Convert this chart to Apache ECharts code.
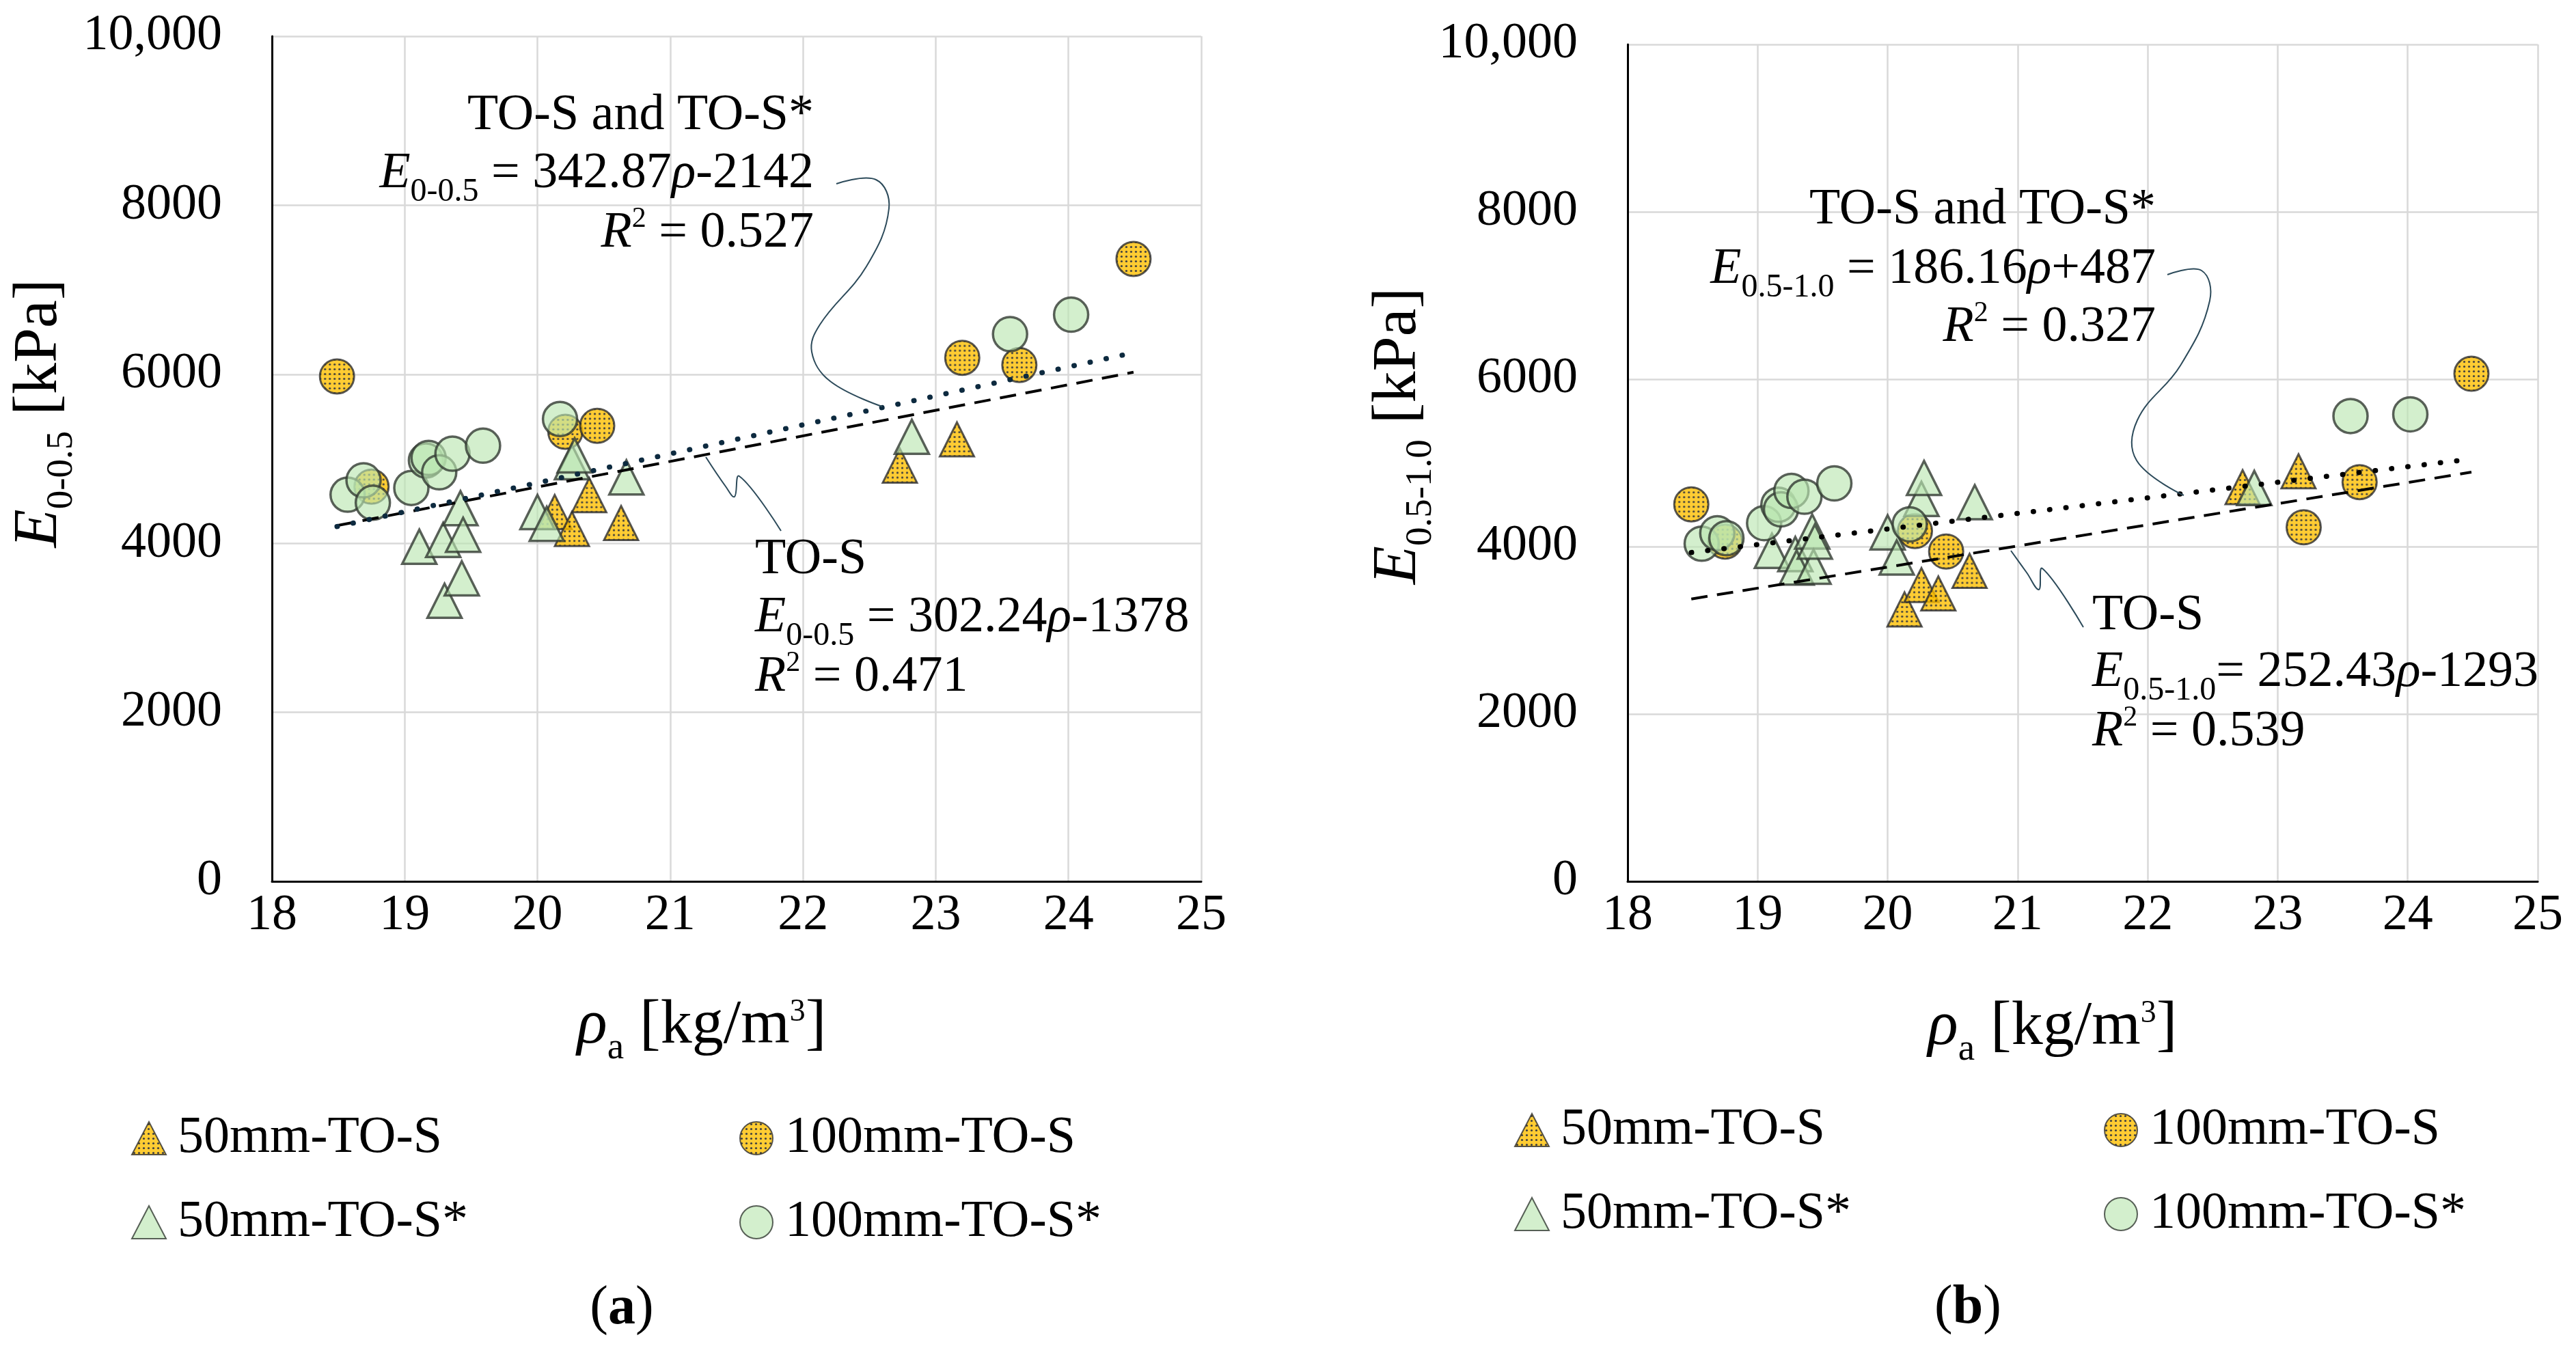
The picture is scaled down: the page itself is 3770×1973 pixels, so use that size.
<!DOCTYPE html>
<html>
<head>
<meta charset="utf-8">
<script src="https://cdn.jsdelivr.net/npm/echarts@6/dist/echarts.min.js"></script>
<style>
  html, body { margin: 0; padding: 0; background: #fff; }
  #chart { width: 3770px; height: 1973px; }
</style>
</head>
<body>
<div id="chart"></div>
<script>
// apparent density rho_a [kg/m3] per sample group
const rho50 = [20.13, 20.26, 20.39, 20.63, 22.73, 23.16];
const rho100 = [18.49, 18.75, 20.21, 20.45, 23.20, 23.63, 24.49];
const rho50s = [19.11, 19.29, 19.30, 19.42, 19.43, 19.44, 20.00, 20.07, 20.26, 20.28, 20.67, 22.82];
const rho100s = [18.57, 18.69, 18.76, 19.05, 19.16, 19.18, 19.26, 19.36, 19.59, 20.17, 23.56, 24.02];

// (a) E 0-0.5 [kPa]
const e05_50 = [4370, 4170, 4570, 4240, 4920, 5230];
const e05_100 = [5975, 4670, 5320, 5390, 6195, 6110, 7365];
const e05_50s = [3960, 4040, 3320, 4415, 3585, 4100, 4370, 4230, 4960, 5040, 4780, 5260];
const e05_100s = [4575, 4745, 4480, 4655, 4980, 5010, 4840, 5060, 5155, 5470, 6475, 6705];

// (b) E 0.5-1.0 [kPa]
const e10_50 = [3250, 3540, 3440, 3710, 4710, 4900];
const e10_100 = [4505, 4060, 4185, 3940, 4230, 4770, 6065];
const e10_50s = [3950, 3910, 3750, 4180, 3760, 4060, 4170, 3870, 4570, 4820, 4530, 4700];
const e10_100s = [4035, 4160, 4100, 4280, 4500, 4445, 4665, 4595, 4755, 4265, 5560, 5580];

// trend line end points
const fitTOS_a = [[18.49, 4210], [24.49, 6024]];
const fitAll_a = [[18.49, 4198], [24.49, 6255]];
const fitTOS_b = [[18.49, 3374], [24.49, 4889]];
const fitAll_b = [[18.49, 3929], [24.49, 5046]];

const xTicks = [18, 19, 20, 21, 22, 23, 24, 25];
const yTicks = [0, 2000, 4000, 6000, 8000, 10000];

const F = "'Liberation Serif', 'Times New Roman', serif";
const MARK = 50;

function dotPattern() {
  const c = document.createElement('canvas');
  c.width = 7; c.height = 7;
  const g = c.getContext('2d');
  g.fillStyle = '#ffc000';
  g.fillRect(0, 0, 7, 7);
  g.fillStyle = '#111';
  g.beginPath();
  g.arc(3.5, 3.5, 1.6, 0, Math.PI * 2);
  g.fill();
  return c;
}
const dots = dotPattern();
// symbols are drawn in a 2x2 box scaled by size/2, so shrink the pattern back
const orangeFill = { image: dots, repeat: 'repeat', scaleX: 2 / MARK, scaleY: 2 / MARK };
const orangeLegend = { image: dots, repeat: 'repeat' };
const greenFill = 'rgba(186,230,176,0.8)';

function pts(xs, ys) {
  return xs.map((x, i) => [x, ys[i]]);
}

function panel(k, e50, e100, e50s, e100s, fitTOS, fitAll, dotColor) {
  const base = { type: 'scatter', xAxisIndex: k, yAxisIndex: k, symbolSize: MARK, silent: true };
  return [
    { ...base, name: '50mm-TO-S', symbol: 'triangle', data: pts(rho50, e50),
      itemStyle: { color: orangeFill, borderColor: '#2e2e2e', borderWidth: 3 } },
    { ...base, name: '100mm-TO-S', symbol: 'circle', data: pts(rho100, e100),
      itemStyle: { color: orangeFill, borderColor: '#2e2e2e', borderWidth: 3 } },
    { ...base, name: '50mm-TO-S*', symbol: 'triangle', data: pts(rho50s, e50s),
      itemStyle: { color: greenFill, borderColor: '#323a32', borderWidth: 3.5 } },
    { ...base, name: '100mm-TO-S*', symbol: 'circle', data: pts(rho100s, e100s),
      itemStyle: { color: greenFill, borderColor: '#323a32', borderWidth: 3.5 } },
    { type: 'line', xAxisIndex: k, yAxisIndex: k, data: fitTOS, symbol: 'none', silent: true, z: 5,
      lineStyle: { color: '#000', width: 4, type: [24, 14] } },
    { type: 'line', xAxisIndex: k, yAxisIndex: k, data: fitAll, symbol: 'none', silent: true, z: 5,
      lineStyle: { color: dotColor, width: 7.5, type: [0.5, 23.5], cap: 'round' } }
  ];
}

function xAxis(k) {
  return {
    type: 'value', gridIndex: k, min: xTicks[0], max: xTicks[xTicks.length - 1], interval: 1,
    axisLine: { show: true, onZero: false, lineStyle: { color: '#000', width: 3 } },
    axisTick: { show: false },
    splitLine: { show: true, lineStyle: { color: '#d9d9d9', width: 2.5 } },
    axisLabel: { margin: 14, fontSize: 74, fontFamily: F, color: '#000' }
  };
}
function yAxis(k) {
  return {
    type: 'value', gridIndex: k, min: yTicks[0], max: yTicks[yTicks.length - 1], interval: 2000,
    axisLine: { show: true, onZero: false, lineStyle: { color: '#000', width: 3 } },
    axisTick: { show: false },
    splitLine: { show: true, lineStyle: { color: '#d9d9d9', width: 2.5 } },
    axisLabel: { margin: 73, fontSize: 74, fontFamily: F, color: '#000',
      formatter: v => (v === 10000 ? '10,000' : String(v)) }
  };
}

// rich styles for the equation labels
const rich = {
  n: { fontFamily: F, fontSize: 74, lineHeight: 100, color: '#000' },
  i: { fontFamily: F, fontSize: 74, lineHeight: 100, fontStyle: 'italic', color: '#000' },
  sb: { fontFamily: F, fontSize: 48, lineHeight: 46, verticalAlign: 'bottom', color: '#000' },
  sp: { fontFamily: F, fontSize: 42, verticalAlign: 'top', padding: [8, 0, 0, 0], color: '#000' }
};
const richAx = {
  n: { fontFamily: F, fontSize: 92, lineHeight: 120, color: '#000' },
  i: { fontFamily: F, fontSize: 92, lineHeight: 120, fontStyle: 'italic', color: '#000' },
  sb: { fontFamily: F, fontSize: 55, lineHeight: 46, verticalAlign: 'bottom', color: '#000' },
  sp: { fontFamily: F, fontSize: 46, verticalAlign: 'top', padding: [17, 0, 0, 0], color: '#000' },
  b: { fontFamily: F, fontSize: 80, lineHeight: 100, fontWeight: 'bold', color: '#000' },
  c: { fontFamily: F, fontSize: 80, lineHeight: 100, color: '#000' }
};

function label(x, baseline, align, str) {
  return { type: 'text', x: x, y: baseline - 25, silent: true, z: 10,
    style: { text: str, textAlign: align, textVerticalAlign: 'middle', rich: rich } };
}
function axText(x, y, str, rot) {
  return { type: 'text', x: x, y: y, rotation: rot || 0, silent: true,
    style: { text: str, textAlign: 'center', textVerticalAlign: 'middle', rich: richAx } };
}
function callout(points) {
  return { type: 'polyline', silent: true, z: 9,
    shape: { points: points, smooth: 0.4 },
    style: { stroke: '#2c4a5a', lineWidth: 2, fill: null } };
}

const legendText = { fontFamily: F, fontSize: 76, lineHeight: 76, color: '#000', padding: [0, 0, 0, 12] };
function legend(left, top, names) {
  return { left: left, top: top, orient: 'vertical', itemGap: 47, itemWidth: 50, itemHeight: 48,
    padding: 0, selectedMode: false, textStyle: legendText,
    data: names.map(n => (n.indexOf('*') < 0
      ? { name: n, itemStyle: { color: orangeLegend, borderColor: '#2e2e2e', borderWidth: 2 } }
      : { name: n })) };
}

const chart = echarts.init(document.getElementById('chart'));
chart.setOption({
  animation: false,
  backgroundColor: '#fff',
  grid: [
    { left: 398, top: 53, width: 1360, height: 1237 },
    { left: 2382, top: 65, width: 1332, height: 1225 }
  ],
  xAxis: [xAxis(0), xAxis(1)],
  yAxis: [yAxis(0), yAxis(1)],
  legend: [
    legend(192, 1628, ['50mm-TO-S', '50mm-TO-S*']),
    legend(1082, 1628, ['100mm-TO-S', '100mm-TO-S*']),
    legend(2216, 1616, ['50mm-TO-S', '50mm-TO-S*']),
    legend(3079, 1616, ['100mm-TO-S', '100mm-TO-S*'])
  ],
  series: [
    ...panel(0, e05_50, e05_100, e05_50s, e05_100s, fitTOS_a, fitAll_a, '#0d2a3f'),
    ...panel(1, e10_50, e10_100, e10_50s, e10_100s, fitTOS_b, fitAll_b, '#000')
  ],
  graphic: [
    // panel (a) annotations
    label(1191, 195, 'right', '{n|TO-S and TO-S*}'),
    label(1191, 280, 'right', '{i|E}{sb|0-0.5}{n| = 342.87}{i|ρ}{n|-2142}'),
    label(1191, 367, 'right', '{i|R}{sp|2}{n| = 0.527}'),
    label(1105, 845, 'left', '{n|TO-S}'),
    label(1105, 930, 'left', '{i|E}{sb|0-0.5}{n| = 302.24}{i|ρ}{n|-1378}'),
    label(1105, 1017, 'left', '{i|R}{sp|2}{n| = 0.471}'),
    callout([[1224, 269], [1282, 263], [1301, 305], [1268, 390], [1200, 475], [1188, 515], [1215, 558], [1291, 595]]),
    callout([[1033, 669], [1062, 712], [1075, 727], [1082, 697], [1143, 777]]),
    // panel (b) annotations
    label(3155, 333, 'right', '{n|TO-S and TO-S*}'),
    label(3155, 420, 'right', '{i|E}{sb|0.5-1.0}{n| = 186.16}{i|ρ}{n|+487}'),
    label(3155, 505, 'right', '{i|R}{sp|2}{n| = 0.327}'),
    label(3062, 927, 'left', '{n|TO-S}'),
    label(3062, 1010, 'left', '{i|E}{sb|0.5-1.0}{n|= 252.43}{i|ρ}{n|-1293}'),
    label(3062, 1097, 'left', '{i|R}{sp|2}{n| = 0.539}'),
    callout([[3172, 402], [3222, 396], [3234, 440], [3191, 535], [3128, 615], [3127, 674], [3196, 725]]),
    callout([[2943, 806], [2966, 838], [2984, 863], [2989, 832], [3049, 918]]),
    // axis titles
    axText(58, 605, '{i|E}{sb|0-0.5}{n| [kPa]}', Math.PI / 2),
    axText(2047, 638, '{i|E}{sb|0.5-1.0}{n| [kPa]}', Math.PI / 2),
    axText(1027, 1502, '{i|ρ}{sb|a}{n| [kg/m}{sp|3}{n|]}'),
    axText(3004, 1504, '{i|ρ}{sb|a}{n| [kg/m}{sp|3}{n|]}'),
    // panel captions
    axText(910, 1916, '{c|(}{b|a}{c|)}'),
    axText(2880, 1915, '{c|(}{b|b}{c|)}')
  ]
});
</script>
</body>
</html>
